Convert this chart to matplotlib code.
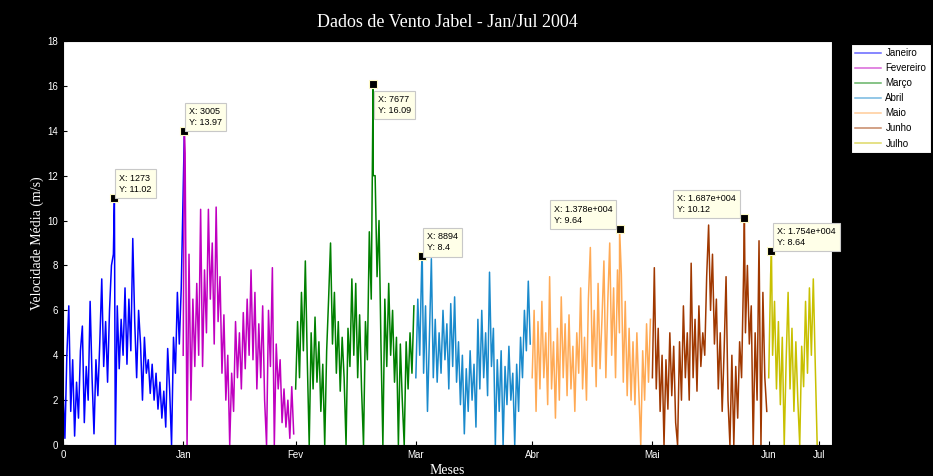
import numpy as np
import matplotlib
matplotlib.use("Agg")
import matplotlib.pyplot as plt

# 15-min samples, values every 48 samples (half a day)
step = 48
meses = ["Janeiro", "Fevereiro", "Março", "Abril", "Maio", "Junho", "Julho"]
inicio = [0, 2976, 5760, 8736, 11616, 14592, 17472]
cores = ["#0000ff", "#c000c0", "#008000", "#1a8acc", "#ffaa55", "#a03800", "#c8c000"]

janeiro = [2.5, 0.3, 4.0, 6.2, 1.5, 3.8, 0.4, 2.8, 1.2, 4.2, 5.3, 1.0, 3.5, 2.0, 6.4, 3.0,
           0.5, 3.8, 2.2, 4.6, 7.4, 3.5, 5.5, 2.8, 6.0, 8.0, 8.5, 0.0, 6.2, 3.4, 5.6, 4.0,
           7.0, 3.6, 6.5, 4.2, 9.2, 5.5, 3.0, 6.0, 4.5, 2.0, 4.8, 3.2, 3.8, 2.3, 3.6, 2.0,
           3.2, 1.6, 2.8, 1.2, 2.4, 0.8, 4.3, 2.5, 0.0, 4.8, 3.2, 6.8, 4.5, 7.0]
fevereiro = [4.0, 13.0, 0.0, 8.5, 2.0, 6.5, 3.5, 7.2, 4.0, 10.5, 3.5, 7.8, 5.0, 10.5, 6.5,
             9.0, 4.5, 10.6, 5.5, 7.5, 3.2, 5.8, 2.0, 4.0, 0.0, 3.2, 1.5, 5.5, 3.0, 5.0,
             2.5, 5.9, 3.4, 6.5, 4.0, 7.8, 3.8, 6.8, 2.5, 5.4, 3.0, 6.2, 2.0, 0.0, 6.0,
             3.5, 7.9, 0.0, 4.5, 2.5, 3.8, 1.0, 2.5, 0.8, 2.0, 0.3, 2.6, 0.5]
marco = [2.5, 5.5, 3.0, 6.8, 4.2, 8.2, 3.8, 0.0, 5.0, 2.5, 5.7, 2.8, 4.6, 1.5, 3.6, 0.0,
         4.2, 6.5, 9.0, 4.5, 6.8, 3.2, 5.5, 2.4, 4.8, 3.0, 0.0, 5.2, 3.5, 7.4, 4.0, 7.2,
         3.0, 5.8, 2.5, 0.0, 5.5, 3.8, 9.5, 6.5, 12.0, 12.0, 7.5, 10.0, 4.5, 0.0, 6.5,
         3.5, 7.2, 4.0, 6.0, 2.8, 4.8, 0.0, 4.5, 2.0, 0.0, 4.6, 2.5, 5.0, 3.2, 6.2]
abril = [3.0, 6.5, 4.0, 8.0, 3.2, 6.2, 1.5, 4.8, 8.3, 3.0, 5.6, 2.8, 5.0, 3.2, 6.0, 3.8,
         5.4, 2.5, 6.3, 3.5, 6.6, 2.8, 4.6, 1.8, 4.0, 0.5, 3.4, 1.5, 4.2, 2.0, 3.6, 0.8,
         5.6, 2.5, 6.0, 3.0, 5.0, 2.2, 7.7, 3.5, 5.2, 0.0, 3.8, 1.5, 4.2, 0.0, 3.5, 1.8,
         4.4, 2.0, 3.2, 0.0, 3.6, 1.5, 4.8, 3.0, 6.0, 4.2, 7.3, 4.5]
maio = [3.0, 6.0, 1.5, 5.5, 2.5, 6.4, 3.0, 5.0, 1.8, 7.5, 2.5, 4.6, 1.2, 5.2, 2.0, 6.6,
        3.0, 5.4, 2.2, 5.8, 2.5, 4.4, 1.5, 5.0, 3.2, 7.0, 2.5, 4.8, 2.0, 6.5, 8.8, 3.5,
        6.0, 2.6, 7.2, 3.4, 5.6, 8.2, 3.0, 6.4, 9.0, 4.0, 7.0, 3.0, 7.8, 5.0, 7.6, 2.8,
        6.4, 2.2, 5.2, 2.0, 4.6, 1.8, 5.0, 2.4, 0.0, 4.2, 2.0, 5.4, 2.8, 5.6]
junho = [3.0, 7.9, 2.5, 5.2, 1.5, 4.0, 0.0, 3.8, 1.6, 5.0, 2.2, 4.4, 1.0, 0.0, 4.6, 2.0,
         6.2, 3.0, 5.0, 2.0, 8.1, 3.0, 5.6, 2.4, 6.2, 3.5, 5.0, 4.0, 7.5, 9.8, 6.0, 8.5,
         4.5, 6.5, 2.5, 5.0, 1.5, 4.2, 7.5, 2.0, 0.0, 4.0, 0.0, 3.5, 1.2, 4.6, 3.0, 7.5,
         5.0, 8.0, 4.5, 6.2, 0.0, 5.0, 2.0, 9.1, 0.0, 6.8, 3.0, 1.5]
julho = [3.0, 7.6, 4.0, 6.4, 2.5, 5.5, 1.8, 4.8, 0.0, 3.8, 6.8, 2.5, 5.2, 1.5, 4.6, 2.0,
         0.0, 4.4, 2.6, 6.4, 3.2, 7.0, 4.0, 7.4, 3.6, 0.0]
series = [janeiro, fevereiro, marco, abril, maio, junho, julho]

# data tips
pico_x = [1273, 3005, 7677, 8894, 13780, 16870, 17540]
pico_y = [11.02, 13.97, 16.09, 8.4, 9.64, 10.12, 8.64]
pico_txt = ["X: 1273\nY: 11.02", "X: 3005\nY: 13.97", "X: 7677\nY: 16.09", "X: 8894\nY: 8.4",
            "X: 1.378e+004\nY: 9.64", "X: 1.687e+004\nY: 10.12", "X: 1.754e+004\nY: 8.64"]
pico_off = [(5, 4), (5, 4), (5, -31), (5, 4), (-66, 4), (-67, 4), (6, 4)]

tick_pos = [0, 2976, 5760, 8736, 11616, 14592, 17472, 18720]
tick_lab = ["0", "Jan", "Fev", "Mar", "Abr", "Mai", "Jun", "Jul"]

fig = plt.figure(figsize=(9.33, 4.76), dpi=100, facecolor="black")
ax = fig.add_axes([0.0675, 0.065, 0.8243, 0.849])
ax.set_facecolor("white")

for nome, ini, cor, vals in zip(meses, inicio, cores, series):
    x = list(ini + step * np.arange(len(vals)))
    y = list(vals)
    # put the data-tip sample into its own month
    for px, py in zip(pico_x, pico_y):
        if ini <= px < ini + step * len(vals) + step:
            x.append(px)
            y.append(py)
    ordem = np.argsort(x)
    ax.plot(np.array(x)[ordem], np.array(y)[ordem], color=cor, lw=1.1, label=nome)

for px, py, txt, off in zip(pico_x, pico_y, pico_txt, pico_off):
    ax.plot(px, py, "s", ms=5.5, mfc="black", mec="#fffbc8", mew=0.8, zorder=5)
    ax.annotate(txt, (px, py), xytext=off, textcoords="offset pixels",
                ha="left", va="bottom", fontsize=6.5, family="Liberation Sans",
                linespacing=1.3, zorder=6, annotation_clip=False,
                bbox=dict(boxstyle="square,pad=0.45", fc="#ffffe8", ec="#c8c8c8", lw=0.8))

ax.set_xlim(0, 19040)
ax.set_ylim(0, 18)
ax.set_yticks(range(0, 19, 2))
ax.set_xticks(tick_pos)
ax.set_xticklabels(tick_lab)
ax.tick_params(direction="in", length=3, colors="black", labelcolor="white",
               labelsize=7, top=False, right=False)
for lab in ax.get_xticklabels() + ax.get_yticklabels():
    lab.set_family("Liberation Sans")
for s in ax.spines.values():
    s.set_color("black")

fig.suptitle("Dados de Vento Jabel - Jan/Jul 2004", color="white", family="Liberation Serif",
             fontsize=13, x=0.48, y=0.97)
ax.set_xlabel("Meses", color="white", family="Liberation Serif", fontsize=10, labelpad=3)
ax.set_ylabel("Velocidade Média (m/s)", color="white", family="Liberation Serif",
              fontsize=10, labelpad=2)

leg = fig.legend(loc="upper left", bbox_to_anchor=(0.912, 0.908),
                 prop={"family": "Liberation Sans", "size": 7}, frameon=True,
                 fancybox=False, facecolor="white", framealpha=1, edgecolor="black",
                 handlelength=2.6, borderpad=0.45, labelspacing=0.52, handletextpad=0.5,
                 borderaxespad=0)
leg.get_frame().set_linewidth(0.8)
for h in leg.get_lines():
    h.set_alpha(0.6)

fig.savefig("out.png", dpi=100, facecolor="black")
